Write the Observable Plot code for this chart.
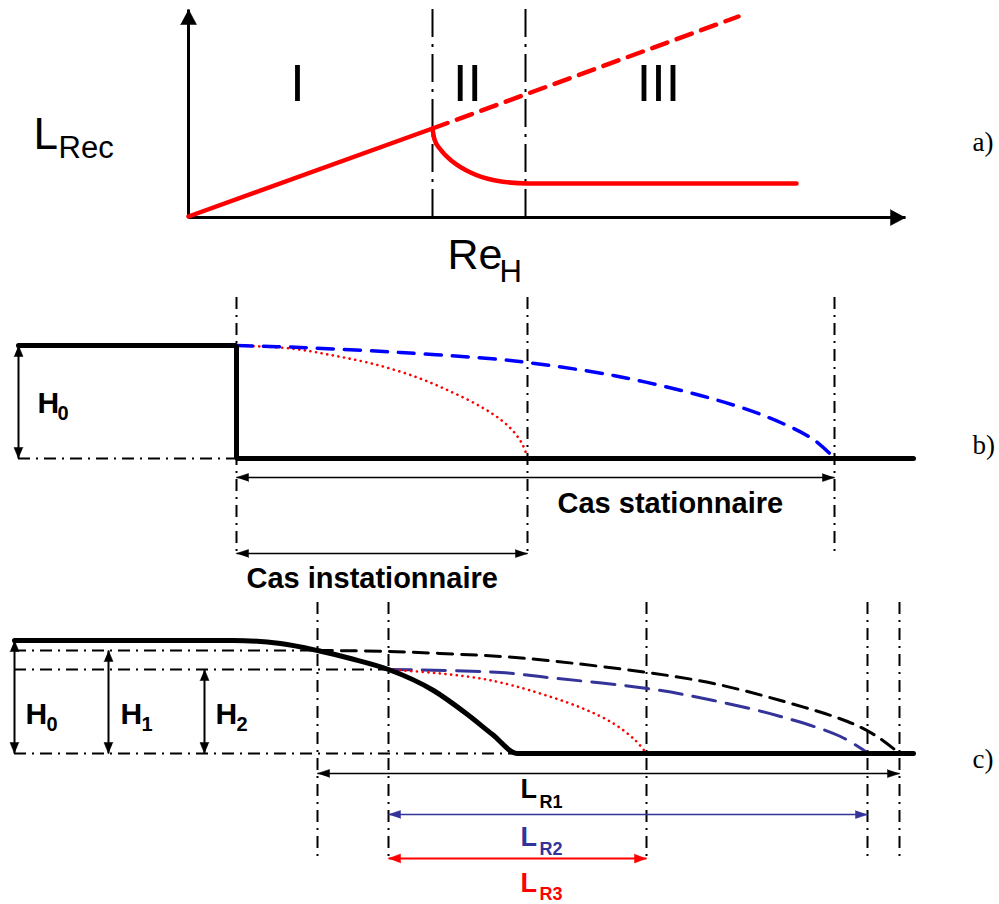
<!DOCTYPE html>
<html><head><meta charset="utf-8">
<script src="https://cdn.jsdelivr.net/npm/d3@7"></script>
<script src="https://cdn.jsdelivr.net/npm/@observablehq/plot@0.6"></script>
<style>html,body{margin:0;padding:0;background:#fff}#chart svg{display:block}</style>
</head><body><div id="chart"></div>
<script>
// ---------- Panel a) : L_Rec versus Re_H ----------
const axisArrowsA = [
  {x1: 188, y1: 217, x2: 188, y2: 9},
  {x1: 188, y1: 217, x2: 905, y2: 217}
];
const regimeBoundsA = [432, 525];
const regimeNames = ["I", "II", "III"];
const regimeCenters = [297, 467, 658];
const lrecLinear = [[188, 216], [432, 128]];
const lrecExtrapolated = [[432, 128], [738, 16]];
const lrecSaturated = [[432, 128], [434, 139], [440, 149], [452, 161], [470, 172], [495, 180], [527, 183], [796, 183]];

// ---------- Panel b) : backward-facing step ----------
const stepProfileB = [[18, 345], [236, 345], [236, 458], [913, 458]];
const guidesB = [236, 527, 834];
const levelsB = [{y: 458, x1: 18, x2: 236}];
const unsteadyB = [[236, 345], [290, 348], [333, 355], [375, 364], [417, 377], [450, 391], [480, 406], [500, 419], [513, 431], [522, 444], [527, 457]];
const steadyB = [[236, 345], [300, 347], [400, 352], [500, 359], [527, 362], [613, 375], [700, 395], [763, 415], [813, 439], [834, 458]];
const heightArrowsB = [{x1: 18, y1: 345, x2: 18, y2: 458}];
const spanArrowsB = [
  {x1: 236, y1: 477, x2: 834, y2: 477},
  {x1: 236, y1: 553, x2: 527, y2: 553}
];

// ---------- Panel c) : smooth ramp ----------
const rampProfileC = [[14, 640], [233, 640], [280, 643], [317, 650], [350, 658], [388, 669], [433, 690], [467, 714], [492, 734], [517, 753], [913, 753]];
const guidesC = [317, 388, 646, 867, 899];
const levelsC = [
  {y: 650, x1: 14, x2: 317},
  {y: 669, x1: 14, x2: 388},
  {y: 753, x1: 14, x2: 517}
];
const reattachH1 = [[317, 650], [388, 651], [500, 656], [547, 660], [647, 672], [713, 683], [780, 700], [847, 721], [875, 735], [899, 753]];
const reattachH2 = [[388, 669], [500, 672], [547, 677], [647, 688], [713, 700], [780, 716], [840, 736], [868, 753]];
const reattachH3 = [[388, 669], [440, 673], [480, 678], [500, 682], [530, 690], [580, 707], [613, 723], [635, 740], [646, 753]];
const heightArrowsC = [
  {x1: 14, y1: 640, x2: 14, y2: 753},
  {x1: 108, y1: 650, x2: 108, y2: 753},
  {x1: 204, y1: 669, x2: 204, y2: 753}
];
const spanLR1 = [{x1: 317, y1: 773, x2: 899, y2: 773}];
const spanLR2 = [{x1: 388, y1: 814, x2: 867, y2: 814}];
const spanLR3 = [{x1: 388, y1: 858, x2: 646, y2: 858}];

// ---------- Text ----------
const SANS = "'Liberation Sans', Arial, Helvetica, sans-serif";
const SERIF = "'Liberation Serif', 'DejaVu Serif', serif";
const labels = [
  {t: "L", x: 33, y: 148, size: 44, weight: "normal", color: "black"},
  {t: "Rec", x: 58, y: 157, size: 31, weight: "normal", color: "black"},
  {t: "Re", x: 447, y: 268, size: 43, weight: "normal", color: "black"},
  {t: "H", x: 499, y: 281, size: 31, weight: "normal", color: "black"},
  {t: "a)", x: 972, y: 150, size: 27, weight: "normal", color: "black", family: SERIF},
  {t: "H", x: 37, y: 412, size: 30, weight: "bold", color: "black"},
  {t: "0", x: 57, y: 419, size: 20, weight: "bold", color: "black"},
  {t: "Cas stationnaire", x: 557, y: 512, size: 29, weight: "bold", color: "black"},
  {t: "Cas instationnaire", x: 246, y: 587, size: 29, weight: "bold", color: "black"},
  {t: "b)", x: 972, y: 453, size: 27, weight: "normal", color: "black", family: SERIF},
  {t: "H", x: 25, y: 723, size: 30, weight: "bold", color: "black"},
  {t: "0", x: 46, y: 730, size: 20, weight: "bold", color: "black"},
  {t: "H", x: 120, y: 723, size: 30, weight: "bold", color: "black"},
  {t: "1", x: 141, y: 730, size: 20, weight: "bold", color: "black"},
  {t: "H", x: 215, y: 723, size: 30, weight: "bold", color: "black"},
  {t: "2", x: 236, y: 730, size: 20, weight: "bold", color: "black"},
  {t: "L", x: 520, y: 797, size: 27, weight: "bold", color: "black"},
  {t: "R1", x: 539, y: 807, size: 18, weight: "bold", color: "black"},
  {t: "L", x: 520, y: 845, size: 27, weight: "bold", color: "#333399"},
  {t: "R2", x: 539, y: 854, size: 18, weight: "bold", color: "#333399"},
  {t: "L", x: 520, y: 891, size: 27, weight: "bold", color: "#ff0000"},
  {t: "R3", x: 539, y: 899, size: 18, weight: "bold", color: "#ff0000"},
  {t: "c)", x: 972, y: 767, size: 27, weight: "normal", color: "black", family: SERIF}
];

// ---------- helpers ----------
function headPolygons(arrows, len, half, both) {
  const out = [];
  arrows.forEach((a, i) => {
    const ends = both ? [[a.x1, a.y1, a.x2, a.y2], [a.x2, a.y2, a.x1, a.y1]] : [[a.x1, a.y1, a.x2, a.y2]];
    ends.forEach(([fx, fy, tx, ty], j) => {
      const dx = tx - fx, dy = ty - fy, d = Math.hypot(dx, dy), ux = dx / d, uy = dy / d;
      const bx = tx - ux * len, by = ty - uy * len, id = i + "-" + j;
      out.push({id, x: tx, y: ty}, {id, x: bx - uy * half, y: by + ux * half}, {id, x: bx + uy * half, y: by - ux * half});
    });
  });
  return out;
}
const P = (pts, opts) => Plot.line(pts, {x: d => d[0], y: d => d[1], ...opts});
const vGuides = (xs, y1, y2, dash) => Plot.ruleX(xs, {x: d => d, y1, y2, stroke: "black", strokeWidth: 2, strokeDasharray: dash});
const hGuides = (rows) => Plot.ruleY(rows, {y: "y", x1: "x1", x2: "x2", stroke: "black", strokeWidth: 2, strokeDasharray: "12,6,2,6"});
const shafts = (arr, color, w) => Plot.link(arr, {x1: "x1", y1: "y1", x2: "x2", y2: "y2", stroke: color, strokeWidth: w});
const heads = (arr, len, half, both, color) => Plot.line(headPolygons(arr, len, half, both), {x: "x", y: "y", z: "id", fill: color, stroke: color, strokeWidth: 0.5});
const dotted = {stroke: "#ff0000", strokeWidth: 2.6, strokeDasharray: "0.1,5.6", strokeLinecap: "round", curve: "catmull-rom"};

const marks = [
  // panel a
  vGuides(regimeBoundsA, 9, 217, "28,7,3,7"),
  shafts(axisArrowsA, "black", 3),
  heads(axisArrowsA, 15, 8, false, "black"),
  P(lrecLinear, {stroke: "#ff0000", strokeWidth: 4.5}),
  P(lrecExtrapolated, {stroke: "#ff0000", strokeWidth: 4.5, strokeDasharray: "16,10"}),
  P(lrecSaturated, {stroke: "#ff0000", strokeWidth: 4.5, curve: "monotone-x"}),
  Plot.text(regimeNames, {x: (d, i) => regimeCenters[i], y: 100, text: d => d, fontSize: 52, textAnchor: "middle", lineAnchor: "bottom", fill: "black", fontFamily: SANS}),
  // panel b
  vGuides(guidesB, 297, 555, "12,6,2,6"),
  hGuides(levelsB),
  P(unsteadyB, dotted),
  P(steadyB, {stroke: "#0000ff", strokeWidth: 3.5, strokeDasharray: "16,11", curve: "catmull-rom"}),
  P(stepProfileB, {stroke: "black", strokeWidth: 5, strokeLinejoin: "miter"}),
  shafts(heightArrowsB, "black", 2),
  heads(heightArrowsB, 11, 4.5, true, "black"),
  shafts(spanArrowsB, "black", 1.6),
  heads(spanArrowsB, 12, 4, true, "black"),
  // panel c
  vGuides(guidesC, 602, 860, "12,6,2,6"),
  hGuides(levelsC),
  P(reattachH1, {stroke: "black", strokeWidth: 3, strokeDasharray: "15,9", curve: "catmull-rom"}),
  P(reattachH2, {stroke: "#333399", strokeWidth: 3, strokeDasharray: "23,11", curve: "catmull-rom"}),
  P(reattachH3, dotted),
  P(rampProfileC, {stroke: "black", strokeWidth: 5, curve: "monotone-x"}),
  shafts(heightArrowsC, "black", 2),
  heads(heightArrowsC, 11, 4.5, true, "black"),
  shafts(spanLR1, "black", 1.6),
  heads(spanLR1, 12, 4, true, "black"),
  shafts(spanLR2, "#333399", 1.6),
  heads(spanLR2, 12, 4, true, "#333399"),
  shafts(spanLR3, "#ff0000", 1.8),
  heads(spanLR3, 12, 4.5, true, "#ff0000"),
  // texts
  ...labels.map(l => Plot.text([l], {x: "x", y: "y", text: "t", fontSize: l.size, fontWeight: l.weight, fill: l.color, textAnchor: "start", lineAnchor: "bottom", fontFamily: l.family || SANS}))
];

const chart = Plot.plot({
  width: 999, height: 904, margin: 0,
  x: {domain: [0, 999], range: [0, 999], axis: null},
  y: {domain: [0, 904], range: [0, 904], axis: null},
  style: {background: "white", fontFamily: SANS, overflow: "visible"},
  marks
});
document.getElementById("chart").appendChild(chart);
</script>
</body></html>
